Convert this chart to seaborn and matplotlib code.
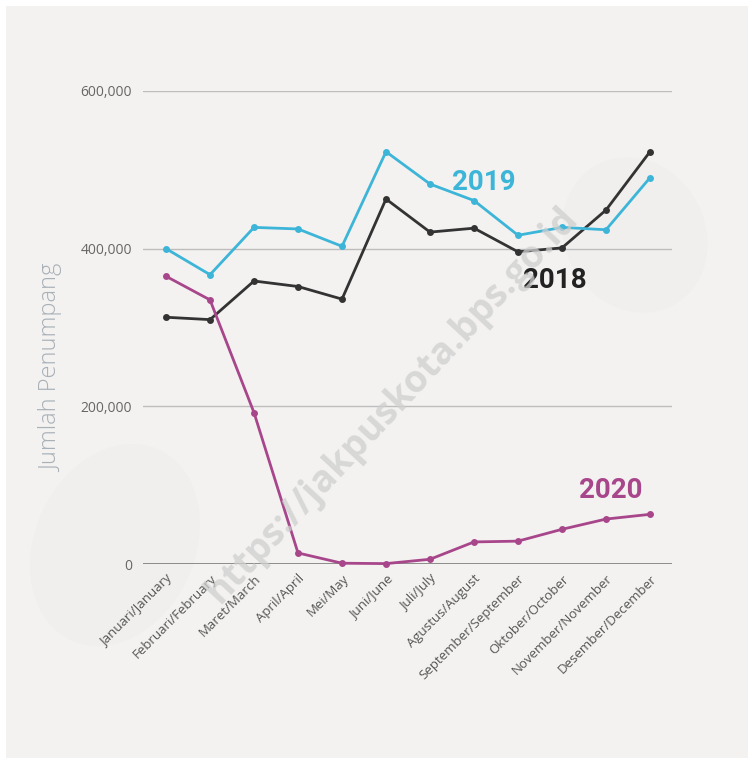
import numpy as np
import pandas as pd
import matplotlib
matplotlib.use("Agg")
import matplotlib.pyplot as plt
from matplotlib.patches import Rectangle, Ellipse
import seaborn as sns

# Month labels (Indonesian/English)
months = ['Januari/January', 'Februari/February', 'Maret/March', 'April/April',
          'Mei/May', 'Juni/June', 'Juli/July', 'Agustus/August',
          'September/September', 'Oktober/October', 'November/November',
          'Desember/December']
# Passenger counts
y2018 = [313000, 310000, 359000, 352000, 336000, 463000, 421000, 426000,
         396000, 401000, 449000, 523000]
y2019 = [400000, 367000, 427000, 425000, 403000, 523000, 482000, 461000,
         417000, 427000, 424000, 490000]
y2020 = [365000, 335000, 192000, 14000, 1000, 500, 6000, 28000,
         29000, 44000, 57000, 63000]
years = ['2018', '2019', '2020']
colors = {'2018': '#333333', '2019': '#3db5d8', '2020': '#a8468b'}
yticks = [0, 200000, 400000, 600000]

df = pd.DataFrame({
    'month': list(range(12)) * 3,
    'value': y2018 + y2019 + y2020,
    'year': [y for y in years for _ in range(12)],
})

sns.set_theme(style='white')
plt.rcParams['font.family'] = ['Open Sans', 'DejaVu Sans']

W, H = 754, 758
fig = plt.figure(figsize=(W / 100, H / 100), dpi=100)
fig.patch.set_facecolor('white')
# grey panel
fig.patches.append(Rectangle((6 / W, 0), 742 / W, 752 / H, transform=fig.transFigure,
                             facecolor='#f3f2f0', edgecolor='none', zorder=-10))
# faint decorative blobs
fig.patches.append(Ellipse((115 / W, (H - 545) / H), 160 / W, 210 / H, angle=-25,
                           transform=fig.transFigure, facecolor='#f0efed',
                           edgecolor='none', zorder=-9))
fig.patches.append(Ellipse((635 / W, (H - 235) / H), 140 / W, 160 / H, angle=30,
                           transform=fig.transFigure, facecolor='#f0efed',
                           edgecolor='none', zorder=-9))

ax = fig.add_axes([143 / W, (H - 564) / H, 529 / W, 473 / H])
ax.set_facecolor('none')

sns.lineplot(data=df, x='month', y='value', hue='year', palette=colors,
             marker='o', markersize=5, markeredgewidth=0, linewidth=2,
             legend=False, ax=ax, clip_on=False, zorder=3)

ax.set_xlim(-0.523, 11.5)
ax.set_ylim(0, 600000)
ax.set_yticks(yticks)
ax.set_yticklabels([f'{v:,}' for v in yticks], color='#666666', fontsize=10)
ax.set_xticks(range(12))
ax.set_xticklabels(months, rotation=45, ha='right', rotation_mode='anchor',
                   color='#555555', fontsize=9.5)
ax.tick_params(axis='both', length=0, pad=8)
ax.tick_params(axis='x', pad=6)

for v in yticks[1:]:
    ax.axhline(v, color='#bdbdbd', linewidth=1, zorder=1)
ax.axhline(0, color='#7a7a7a', linewidth=1.2, zorder=1)
for s in ax.spines.values():
    s.set_visible(False)

ax.set_xlabel('')
ax.set_ylabel('')
fig.text(52 / W, (H - 368) / H, 'Jumlah Penumpang', rotation=90, ha='center',
         va='center', fontsize=17, color='#a8b0b8', fontweight='light')

cond = ['Roboto', 'DejaVu Sans']
fig.text(484 / W, (H - 182) / H, '2019', ha='center', va='center', fontsize=20,
         fontweight='bold', color='#3db5d8', family=cond)
fig.text(555 / W, (H - 281) / H, '2018', ha='center', va='center', fontsize=20,
         fontweight='bold', color='#222222', family=cond)
fig.text(611 / W, (H - 491) / H, '2020', ha='center', va='center', fontsize=20,
         fontweight='bold', color='#a8468b', family=cond)

# watermark
fig.text(392 / W, (H - 405) / H, 'https://jakpuskota.bps.go.id', rotation=47,
         ha='center', va='center', fontsize=27, fontweight='bold',
         color='#cfcfcf', alpha=0.75, family=['Open Sans', 'DejaVu Sans'], zorder=5)

fig.savefig('out.png', dpi=100, facecolor='white')
